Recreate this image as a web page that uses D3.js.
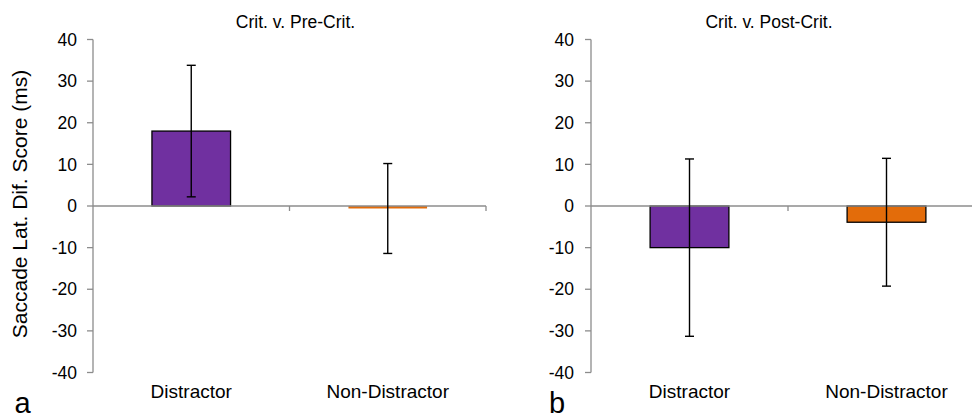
<!DOCTYPE html>
<html>
<head>
<meta charset="utf-8">
<script src="https://cdn.jsdelivr.net/npm/d3@7"></script>
<style>
  html, body { margin: 0; padding: 0; background: #fff; }
  svg { display: block; font-family: Arial, "Liberation Sans", sans-serif; }
</style>
</head>
<body>
<svg id="chart" width="972" height="419"></svg>
<script>
// Saccade latency difference scores (ms) with error bars
const categories = ["Distractor", "Non-Distractor"];
const panelTitles = ["Crit. v. Pre-Crit.", "Crit. v. Post-Crit."];
const panelLetters = ["a", "b"];
const preMeans = [18.0, -0.6];
const preErrors = [15.8, 10.8];
const postMeans = [-10.0, -3.9];
const postErrors = [21.3, 15.35];
const yTicks = [40, 30, 20, 10, 0, -10, -20, -30, -40];
const barColors = ["#7030A0", "#E36C0A"];

const svg = d3.select("#chart");
const axisColor = "#8c8c8c";

const panels = [
  { means: preMeans, errors: preErrors, title: panelTitles[0], letter: panelLetters[0],
    x0: 93, x1: 486, titleX: 295.5, letterX: 14.5, tickLabelGap: 16 },
  { means: postMeans, errors: postErrors, title: panelTitles[1], letter: panelLetters[1],
    x0: 591, x1: 985, titleX: 769, letterX: 549, tickLabelGap: 17 }
];

const y = d3.scaleLinear().domain([-40, 40]).range([372.5, 39.5]);

panels.forEach(p => {
  const g = svg.append("g");
  const x = d3.scaleBand().domain(categories).range([p.x0, p.x1]).paddingInner(0.6).paddingOuter(0.3);

  // y axis line and ticks
  g.append("line").attr("x1", p.x0).attr("x2", p.x0).attr("y1", y(40)).attr("y2", y(-40))
    .attr("stroke", axisColor).attr("stroke-width", 1.3);
  g.selectAll(".yt").data(yTicks).enter().append("line")
    .attr("x1", p.x0 - 6).attr("x2", p.x0).attr("y1", d => y(d)).attr("y2", d => y(d))
    .attr("stroke", axisColor).attr("stroke-width", 1.3);
  g.selectAll(".yl").data(yTicks).enter().append("text")
    .attr("x", p.x0 - p.tickLabelGap).attr("y", d => y(d)).attr("dy", "0.35em")
    .attr("text-anchor", "end").attr("font-size", 17.5).attr("fill", "#000")
    .text(d => d);

  // bars
  g.selectAll(".bar").data(p.means).enter().append("rect")
    .attr("x", (d, i) => x(categories[i]))
    .attr("width", x.bandwidth())
    .attr("y", d => Math.min(y(d), y(0)))
    .attr("height", d => Math.abs(y(d) - y(0)))
    .attr("fill", (d, i) => barColors[i])
    .attr("stroke", d => Math.abs(y(d) - y(0)) > 3 ? "#000" : "none")
    .attr("stroke-width", 1.3);

  // x axis line (zero line) with category boundary ticks
  const bounds = d3.range(0, categories.length + 1).map(k => p.x0 + k * (p.x1 - p.x0) / categories.length);
  g.append("line").attr("x1", p.x0).attr("x2", p.x1).attr("y1", y(0)).attr("y2", y(0))
    .attr("stroke", axisColor).attr("stroke-width", 1.3);
  g.selectAll(".xt").data(bounds.slice(1)).enter().append("line")
    .attr("x1", d => d).attr("x2", d => d).attr("y1", y(0)).attr("y2", y(0) + 5)
    .attr("stroke", axisColor).attr("stroke-width", 1.3);

  // error bars
  const eb = g.selectAll(".eb").data(p.means).enter().append("g");
  const cx = (i) => x(categories[i]) + x.bandwidth() / 2;
  eb.append("line")
    .attr("x1", (d, i) => cx(i)).attr("x2", (d, i) => cx(i))
    .attr("y1", (d, i) => y(d + p.errors[i])).attr("y2", (d, i) => y(d - p.errors[i]))
    .attr("stroke", "#000").attr("stroke-width", 1.4);
  [1, -1].forEach(s => {
    eb.append("line")
      .attr("x1", (d, i) => cx(i) - 4.5).attr("x2", (d, i) => cx(i) + 4.5)
      .attr("y1", (d, i) => y(d + s * p.errors[i])).attr("y2", (d, i) => y(d + s * p.errors[i]))
      .attr("stroke", "#000").attr("stroke-width", 1.4);
  });

  // category labels
  g.selectAll(".xl").data(categories).enter().append("text")
    .attr("x", d => x(d) + x.bandwidth() / 2).attr("y", 398)
    .attr("text-anchor", "middle").attr("font-size", 19).attr("fill", "#000")
    .text(d => d);

  // panel title
  g.append("text").attr("x", p.titleX).attr("y", 28).attr("text-anchor", "middle")
    .attr("font-size", 17.5).attr("fill", "#000").text(p.title);

  // panel letter
  g.append("text").attr("x", p.letterX).attr("y", 413).attr("font-size", 29)
    .attr("fill", "#000").text(p.letter);
});

// shared y axis title
svg.append("text")
  .attr("transform", "translate(27,204) rotate(-90)")
  .attr("text-anchor", "middle").attr("font-size", 21).attr("fill", "#000")
  .text("Saccade Lat. Dif. Score (ms)");
</script>
</body>
</html>
